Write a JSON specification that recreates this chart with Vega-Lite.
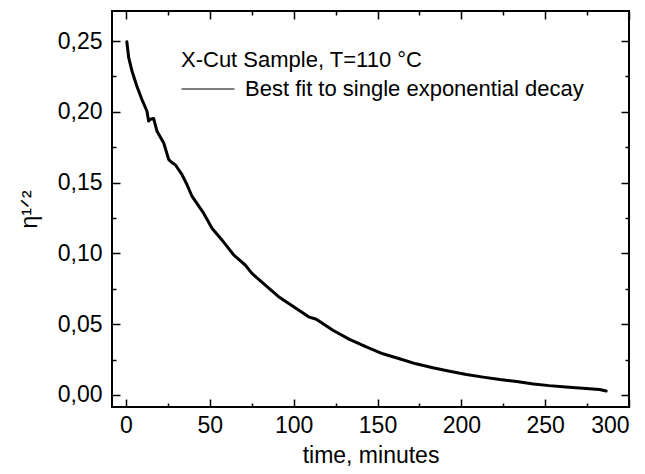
{
  "$schema": "https://vega.github.io/schema/vega-lite/v6.json",
  "width": 517,
  "height": 396,
  "autosize": {"type": "none"},
  "padding": {"left": 112, "top": 11, "right": 16, "bottom": 67},
  "background": "white",
  "config": {
    "view": {"stroke": "black", "strokeWidth": 2},
    "font": "Liberation Sans",
    "axis": {
      "domain": false,
      "grid": false,
      "tickColor": "black",
      "tickWidth": 1.5,
      "labelColor": "black",
      "titleColor": "black",
      "labelFont": "Liberation Sans",
      "titleFont": "Liberation Sans",
      "labelFontSize": 23,
      "titleFontSize": 23,
      "titleFontWeight": "normal"
    }
  },
  "data": {
    "values": [
      {"t": 0.5, "v": 0.2495, "series": "Best fit to single exponential decay"},
      {"t": 1.6, "v": 0.2382, "series": "Best fit to single exponential decay"},
      {"t": 3.6, "v": 0.2287, "series": "Best fit to single exponential decay"},
      {"t": 6.5, "v": 0.2181, "series": "Best fit to single exponential decay"},
      {"t": 9.5, "v": 0.2087, "series": "Best fit to single exponential decay"},
      {"t": 12.5, "v": 0.2004, "series": "Best fit to single exponential decay"},
      {"t": 13.5, "v": 0.1935, "series": "Best fit to single exponential decay"},
      {"t": 14.5, "v": 0.1948, "series": "Best fit to single exponential decay"},
      {"t": 16.5, "v": 0.1952, "series": "Best fit to single exponential decay"},
      {"t": 18.5, "v": 0.1862, "series": "Best fit to single exponential decay"},
      {"t": 22.5, "v": 0.178, "series": "Best fit to single exponential decay"},
      {"t": 25.5, "v": 0.1662, "series": "Best fit to single exponential decay"},
      {"t": 27.5, "v": 0.164, "series": "Best fit to single exponential decay"},
      {"t": 29.4, "v": 0.1626, "series": "Best fit to single exponential decay"},
      {"t": 33.4, "v": 0.1556, "series": "Best fit to single exponential decay"},
      {"t": 36.4, "v": 0.1485, "series": "Best fit to single exponential decay"},
      {"t": 39.4, "v": 0.1402, "series": "Best fit to single exponential decay"},
      {"t": 46.3, "v": 0.1284, "series": "Best fit to single exponential decay"},
      {"t": 51.3, "v": 0.1178, "series": "Best fit to single exponential decay"},
      {"t": 57.2, "v": 0.1095, "series": "Best fit to single exponential decay"},
      {"t": 64.2, "v": 0.0989, "series": "Best fit to single exponential decay"},
      {"t": 71.1, "v": 0.0918, "series": "Best fit to single exponential decay"},
      {"t": 75.1, "v": 0.0859, "series": "Best fit to single exponential decay"},
      {"t": 83.1, "v": 0.0776, "series": "Best fit to single exponential decay"},
      {"t": 91.0, "v": 0.0694, "series": "Best fit to single exponential decay"},
      {"t": 100.0, "v": 0.0623, "series": "Best fit to single exponential decay"},
      {"t": 108.9, "v": 0.0552, "series": "Best fit to single exponential decay"},
      {"t": 113.5, "v": 0.0535, "series": "Best fit to single exponential decay"},
      {"t": 123.4, "v": 0.0457, "series": "Best fit to single exponential decay"},
      {"t": 133.3, "v": 0.0393, "series": "Best fit to single exponential decay"},
      {"t": 143.3, "v": 0.0339, "series": "Best fit to single exponential decay"},
      {"t": 153.2, "v": 0.0291, "series": "Best fit to single exponential decay"},
      {"t": 163.1, "v": 0.0256, "series": "Best fit to single exponential decay"},
      {"t": 173.0, "v": 0.022, "series": "Best fit to single exponential decay"},
      {"t": 183.0, "v": 0.0192, "series": "Best fit to single exponential decay"},
      {"t": 193.0, "v": 0.0168, "series": "Best fit to single exponential decay"},
      {"t": 203.0, "v": 0.0145, "series": "Best fit to single exponential decay"},
      {"t": 213.0, "v": 0.0126, "series": "Best fit to single exponential decay"},
      {"t": 223.0, "v": 0.0109, "series": "Best fit to single exponential decay"},
      {"t": 233.0, "v": 0.0095, "series": "Best fit to single exponential decay"},
      {"t": 243.0, "v": 0.0078, "series": "Best fit to single exponential decay"},
      {"t": 252.4, "v": 0.0066, "series": "Best fit to single exponential decay"},
      {"t": 262.4, "v": 0.0057, "series": "Best fit to single exponential decay"},
      {"t": 272.4, "v": 0.0047, "series": "Best fit to single exponential decay"},
      {"t": 282.4, "v": 0.0038, "series": "Best fit to single exponential decay"},
      {"t": 286.4, "v": 0.0028, "series": "Best fit to single exponential decay"}
    ]
  },
  "layer": [
    {
      "mark": {"type": "line", "strokeWidth": 3, "strokeJoin": "round", "strokeCap": "round"},
      "encoding": {
        "x": {
          "field": "t", "type": "quantitative",
          "scale": {"domain": [-8.35, 300], "nice": false, "zero": false},
          "axis": {
            "orient": "bottom",
            "title": "time, minutes",
            "values": [0, 25, 50, 75, 100, 125, 150, 175, 200, 225, 250, 275, 300],
            "tickSize": {"condition": {"test": "datum.value % 50 === 0", "value": -8}, "value": -4},
            "labelExpr": "datum.value % 50 === 0 ? datum.label : ''",
            "labelPadding": 15,
            "titlePadding": 7
          }
        },
        "y": {
          "field": "v", "type": "quantitative",
          "scale": {"domain": [-0.0085, 0.2712], "nice": false, "zero": false},
          "axis": {
            "orient": "left",
            "title": "η¹ᐟ²",
            "values": [0, 0.025, 0.05, 0.075, 0.1, 0.125, 0.15, 0.175, 0.2, 0.225, 0.25],
            "tickSize": {"condition": {"test": "abs(datum.value * 20 - round(datum.value * 20)) < 0.000001", "value": -8}, "value": -4},
            "labelExpr": "abs(datum.value * 20 - round(datum.value * 20)) < 0.000001 ? replace(format(datum.value, '.2f'), '.', ',') : ''",
            "labelPadding": 18,
            "titlePadding": 16
          }
        },
        "color": {
          "field": "series", "type": "nominal",
          "scale": {"range": ["black"]},
          "legend": {
            "orient": "none",
            "legendX": 69,
            "legendY": 39,
            "title": "X-Cut Sample, T=110 °C",
            "titleFont": "Liberation Sans",
            "titleFontSize": 22,
            "titleFontWeight": "normal",
            "titleColor": "black",
            "titleLimit": 600,
            "titlePadding": -10,
            "labelFont": "Liberation Sans",
            "labelFontSize": 22,
            "labelColor": "black",
            "labelOffset": 10,
            "labelLimit": 600,
            "symbolType": "stroke",
            "symbolSize": 2809,
            "symbolStrokeWidth": 1,
            "padding": 0
          }
        }
      }
    },
    {
      "mark": {"type": "line", "opacity": 0},
      "encoding": {
        "x": {
          "field": "t", "type": "quantitative",
          "axis": {
            "orient": "top",
            "title": null,
            "labels": false,
            "values": [0, 25, 50, 75, 100, 125, 150, 175, 200, 225, 250, 275, 300],
            "tickSize": {"condition": {"test": "datum.value % 50 === 0", "value": -8}, "value": -4}
          }
        },
        "y": {
          "field": "v", "type": "quantitative",
          "axis": {
            "orient": "right",
            "title": null,
            "labels": false,
            "values": [0, 0.025, 0.05, 0.075, 0.1, 0.125, 0.15, 0.175, 0.2, 0.225, 0.25],
            "tickSize": {"condition": {"test": "abs(datum.value * 20 - round(datum.value * 20)) < 0.000001", "value": -8}, "value": -4}
          }
        }
      }
    }
  ],
  "resolve": {"axis": {"x": "independent", "y": "independent"}}
}
